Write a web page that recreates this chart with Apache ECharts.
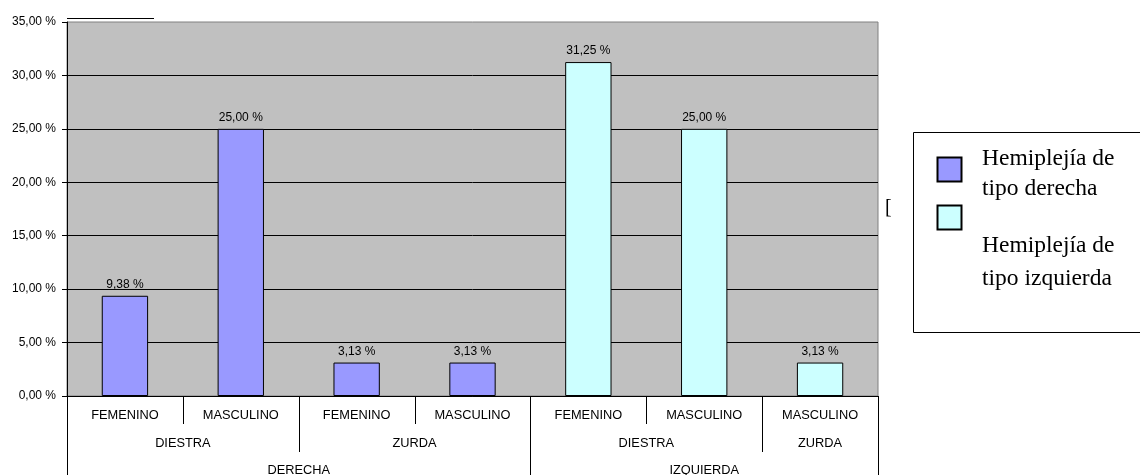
<!DOCTYPE html>
<html><head><meta charset="utf-8">
<script src="https://cdn.jsdelivr.net/npm/echarts@6/dist/echarts.min.js"></script>
<style>html,body{margin:0;padding:0;background:#fff}#c{width:1140px;height:475px}</style>
</head><body><div id="c"></div>
<script>
const categories = ['FEMENINO','MASCULINO','FEMENINO','MASCULINO','FEMENINO','MASCULINO','MASCULINO'];
const level2Labels = ['DIESTRA','ZURDA','DIESTRA','ZURDA'];
const level2Spans = [2,2,2,1];
const level3Labels = ['DERECHA','IZQUIERDA'];
const level3Spans = [4,3];
const seriesNames = ['Hemiplejía de\ntipo derecha','Hemiplejía de\ntipo izquierda'];
const derechaValues = [9.38,25.00,3.13,3.13,null,null,null];
const izquierdaValues = [null,null,null,null,31.25,25.00,3.13];
const seriesColors = ['#9999ff','#ccffff'];

const AX_FONT = '"Liberation Sans", Arial, sans-serif';
const fmt = v => v.toFixed(2).replace('.', ',') + ' %';

const chart = echarts.init(document.getElementById('c'));
const option = {
  animation: false,
  backgroundColor: '#ffffff',
  grid: { left: 67, right: 262, top: 22, bottom: 79, show: true, backgroundColor: '#c0c0c0', borderColor: '#808080', borderWidth: 1 },
  xAxis: {
    type: 'category', data: categories,
    axisLine: { lineStyle: { color: '#000', width: 1 } },
    axisTick: { show: false },
    axisLabel: { interval: 0, color: '#000', fontSize: 12.8, fontFamily: AX_FONT, margin: 13 },
    splitLine: { show: false }
  },
  yAxis: {
    type: 'value', min: 0, max: 35, interval: 5,
    axisLine: { show: true, lineStyle: { color: '#000' } },
    axisTick: { show: true, length: 5, lineStyle: { color: '#000' } },
    axisLabel: { color: '#000', fontSize: 12, fontFamily: AX_FONT, margin: 11, formatter: v => fmt(v) },
    splitLine: { show: true, showMaxLine: false, lineStyle: { color: '#000', width: 1 } }
  },
  series: [
    { name: seriesNames[0], type: 'bar', data: derechaValues, barWidth: '40%', barGap: '-100%',
      itemStyle: { color: seriesColors[0], borderColor: '#000', borderWidth: 1 },
      label: { show: true, position: 'top', distance: 5, color: '#000', fontSize: 12, fontFamily: AX_FONT,
        formatter: p => p.value == null ? '' : fmt(p.value) } },
    { name: seriesNames[1], type: 'bar', data: izquierdaValues, barWidth: '40%', barGap: '-100%',
      itemStyle: { color: seriesColors[1], borderColor: '#000', borderWidth: 1 },
      label: { show: true, position: 'top', distance: 5, color: '#000', fontSize: 12, fontFamily: AX_FONT,
        formatter: p => p.value == null ? '' : fmt(p.value) } }
  ]
};
chart.setOption(option);

// multi-level category labels built from the axis scale
const c0 = chart.convertToPixel({ xAxisIndex: 0 }, 0);
const c1 = chart.convertToPixel({ xAxisIndex: 0 }, 1);
const catW = c1 - c0;
const edge = i => c0 - catW / 2 + i * catW;
const yBase = chart.convertToPixel({ yAxisIndex: 0 }, 0);
const yTop = chart.convertToPixel({ yAxisIndex: 0 }, 35);
const elements = [];
function vline(x, y1, y2) {
  elements.push({ type: 'line', shape: { x1: Math.round(x) + 0.5, y1: y1, x2: Math.round(x) + 0.5, y2: y2 }, style: { stroke: '#000', lineWidth: 1 }, z: 10 });
}
function label(text, x, y) {
  elements.push({ type: 'text', style: { text: text, x: x, y: y, align: 'center', verticalAlign: 'middle', fill: '#000', font: '12.8px ' + AX_FONT }, z: 10 });
}
// level-1 dividers
for (let i = 1; i < categories.length; i++) vline(edge(i), yBase, yBase + 28);
let idx = 0;
level2Labels.forEach((t, k) => {
  const s = idx, e = idx + level2Spans[k];
  label(t, (edge(s) + edge(e)) / 2, yBase + 47);
  vline(edge(e), yBase, yBase + 56);
  idx = e;
});
idx = 0;
vline(edge(0), yBase, 475);
level3Labels.forEach((t, k) => {
  const s = idx, e = idx + level3Spans[k];
  label(t, (edge(s) + edge(e)) / 2, yBase + 74);
  vline(edge(e), yBase, 475);
  idx = e;
});
// stray short line above plot
elements.push({ type: 'line', shape: { x1: edge(0), y1: yTop - 3.5, x2: edge(0) + 87, y2: yTop - 3.5 }, style: { stroke: '#000', lineWidth: 1 } });
// stray bracket glyph
elements.push({ type: 'text', style: { text: '[', x: 885, y: 208, verticalAlign: 'middle', fill: '#000', font: '20px "Liberation Serif", serif' } });

// legend box
elements.push({ type: 'rect', shape: { x: 913.5, y: 132.5, width: 260, height: 200 }, style: { fill: '#fff', stroke: '#000', lineWidth: 1 } });
const swY = [157, 205];
const txY = [144, 229];
const txLH = [30, 33];
seriesNames.forEach((n, i) => {
  elements.push({ type: 'rect', shape: { x: 937.5, y: swY[i] + 0.5, width: 24, height: 24 }, style: { fill: seriesColors[i], stroke: '#000', lineWidth: 2 } });
  elements.push({ type: 'text', style: { text: n, x: 982, y: txY[i], verticalAlign: 'top', fill: '#000', font: '23.5px "Liberation Serif", "Times New Roman", serif', lineHeight: txLH[i] } });
});
chart.setOption({ graphic: { elements: elements } });
</script></body></html>
